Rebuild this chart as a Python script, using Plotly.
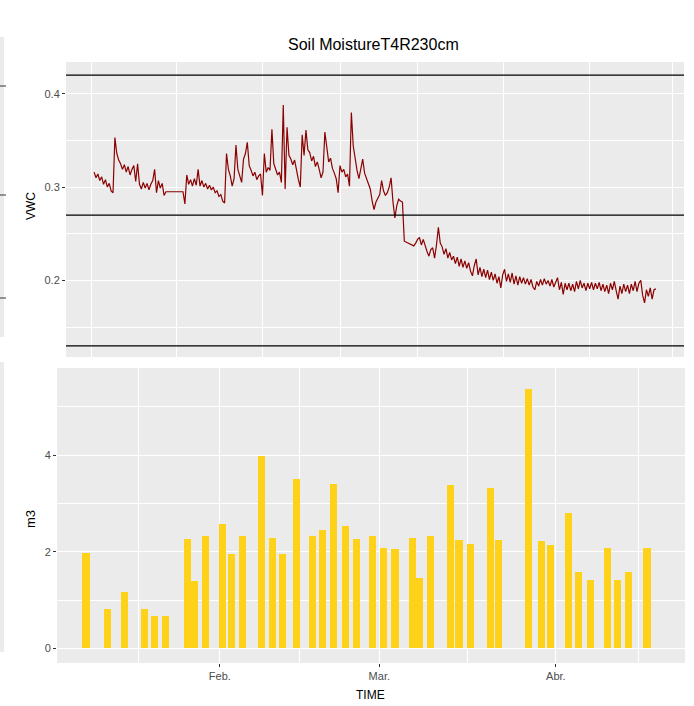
import pandas as pd
import plotly.graph_objects as go

# ---------------- data ----------------
TITLE = "Soil MoistureT4R230cm"

VWC_START = "2019-01-01 13:00"
VWC_STEP_MIN = 492
VWC = [
    0.316, 0.310, 0.314, 0.307, 0.311, 0.303, 0.308, 0.300, 0.304, 0.296,
    0.294, 0.353, 0.336, 0.329, 0.325, 0.319, 0.324, 0.316, 0.322, 0.313,
    0.319, 0.323, 0.306, 0.325, 0.303, 0.298, 0.305, 0.299, 0.304, 0.297,
    0.303, 0.307, 0.319, 0.294, 0.307, 0.299, 0.304, 0.291, 0.295, 0.295,
    0.295, 0.295, 0.295, 0.295, 0.295, 0.295, 0.295, 0.295, 0.282, 0.313,
    0.303, 0.308, 0.301, 0.309, 0.302, 0.319, 0.301, 0.307, 0.300, 0.304,
    0.298, 0.302, 0.297, 0.300, 0.294, 0.296, 0.290, 0.292, 0.285, 0.283,
    0.336, 0.319, 0.312, 0.301, 0.309, 0.345, 0.319, 0.311, 0.305, 0.330,
    0.336, 0.348, 0.323, 0.318, 0.312, 0.316, 0.308, 0.312, 0.314, 0.291,
    0.336, 0.316, 0.321, 0.318, 0.362, 0.325, 0.319, 0.313, 0.316, 0.305,
    0.388, 0.298, 0.364, 0.334, 0.330, 0.324, 0.329, 0.316, 0.308, 0.300,
    0.356, 0.334, 0.361, 0.340, 0.337, 0.328, 0.333, 0.322, 0.327, 0.319,
    0.310, 0.316, 0.359, 0.343, 0.327, 0.331, 0.320, 0.315, 0.309, 0.294,
    0.323, 0.316, 0.319, 0.311, 0.314, 0.301, 0.380, 0.344, 0.330, 0.318,
    0.309, 0.318, 0.330, 0.315, 0.309, 0.303, 0.298, 0.285, 0.276, 0.284,
    0.289, 0.292, 0.307, 0.296, 0.291, 0.294, 0.300, 0.310, 0.284, 0.267,
    0.280, 0.287, 0.285, 0.284, 0.242, 0.241, 0.240, 0.239, 0.238, 0.237,
    0.240, 0.244, 0.246, 0.238, 0.244, 0.236, 0.231, 0.226, 0.233, 0.235,
    0.224, 0.238, 0.257, 0.240, 0.236, 0.228, 0.234, 0.224, 0.230, 0.222,
    0.226, 0.218, 0.225, 0.215, 0.223, 0.214, 0.221, 0.213, 0.219, 0.210,
    0.205, 0.216, 0.223, 0.206, 0.214, 0.204, 0.212, 0.203, 0.211, 0.201,
    0.209, 0.200, 0.207, 0.197, 0.204, 0.192, 0.206, 0.212, 0.199, 0.207,
    0.198, 0.208, 0.196, 0.205, 0.195, 0.204, 0.197, 0.203, 0.196, 0.202,
    0.195, 0.201, 0.193, 0.190, 0.199, 0.194, 0.201, 0.195, 0.202, 0.196,
    0.200, 0.194, 0.201, 0.193, 0.199, 0.203, 0.190, 0.198, 0.185, 0.197,
    0.190, 0.197, 0.189, 0.196, 0.188, 0.199, 0.191, 0.200, 0.192, 0.197,
    0.189, 0.197, 0.191, 0.198, 0.190, 0.197, 0.191, 0.198, 0.189, 0.196,
    0.188, 0.195, 0.186, 0.197, 0.190, 0.199, 0.189, 0.180, 0.194, 0.186,
    0.196, 0.188, 0.195, 0.186, 0.196, 0.189, 0.199, 0.188, 0.197, 0.200,
    0.184, 0.176, 0.190, 0.183, 0.192, 0.180, 0.190, 0.191,
]
THRESHOLDS = [0.42, 0.27, 0.13]

BAR_DATES = [
    "2019-01-08 12:00", "2019-01-12 06:00", "2019-01-15 06:00", "2019-01-18 18:00",
    "2019-01-20 12:00", "2019-01-22 12:00", "2019-01-26 06:00", "2019-01-27 12:00",
    "2019-01-29 12:00", "2019-02-01 12:00", "2019-02-03 00:00", "2019-02-05 00:00",
    "2019-02-08 06:00", "2019-02-10 06:00", "2019-02-12 00:00", "2019-02-14 12:00",
    "2019-02-17 06:00", "2019-02-19 00:00", "2019-02-21 00:00", "2019-02-23 00:00",
    "2019-02-25 00:00", "2019-02-27 18:00", "2019-03-01 18:00", "2019-03-03 18:00",
    "2019-03-06 18:00", "2019-03-08 00:00", "2019-03-10 00:00", "2019-03-13 12:00",
    "2019-03-15 00:00", "2019-03-17 00:00", "2019-03-20 12:00", "2019-03-22 00:00",
    "2019-03-27 06:00", "2019-03-29 12:00", "2019-03-31 00:00", "2019-04-03 06:00",
    "2019-04-05 00:00", "2019-04-07 00:00", "2019-04-10 00:00", "2019-04-11 18:00",
    "2019-04-13 18:00", "2019-04-17 00:00",
]
BAR_M3 = [
    1.97, 0.82, 1.17, 0.82, 0.67, 0.67, 2.26, 1.39, 2.32, 2.58,
    1.95, 2.32, 3.98, 2.29, 1.95, 3.50, 2.32, 2.44, 3.41, 2.54,
    2.26, 2.32, 2.08, 2.05, 2.29, 1.46, 2.32, 3.38, 2.25, 2.17,
    3.32, 2.25, 5.36, 2.22, 2.13, 2.81, 1.58, 1.41, 2.08, 1.41,
    1.58, 2.08,
]

MONTH_TICKS = ["2019-02-01", "2019-03-01", "2019-04-01"]
MONTH_LABELS = ["Feb.", "Mar.", "Abr."]
BOTTOM_MINOR = ["2019-01-17 18:00", "2019-02-15", "2019-03-16 12:00", "2019-04-15 12:00"]
TOP_MAJOR = ["2019-01-01", "2019-02-01", "2019-03-01", "2019-04-01"]
TOP_MINOR = ["2019-01-16 12:00", "2019-02-15", "2019-03-16 12:00", "2019-04-16"]
TOP_YTICKS = [0.2, 0.3, 0.4]
TOP_YMINOR = [0.15, 0.25, 0.35]
BOT_YTICKS = [0, 2, 4]
BOT_YMINOR = [1, 3, 5]

# ---------------- figure ----------------
W, H = 694, 706
FONT = "Liberation Sans, Arial, sans-serif"
PANEL = "#EBEBEB"
TICKCOL = "#4D4D4D"


def px_x(p):
    return p / W


def px_y(p):
    return 1 - p / H


vwc_time = pd.date_range(VWC_START, periods=len(VWC), freq=f"{VWC_STEP_MIN}min")
span = vwc_time[-1] - vwc_time[0]
top_xrange = [vwc_time[0] - 0.05 * span, vwc_time[-1] + 0.05 * span]

fig = go.Figure()
fig.add_trace(go.Scatter(
    x=vwc_time, y=VWC, mode="lines",
    line=dict(color="#8B0000", width=1.2),
    xaxis="x", yaxis="y", showlegend=False, hoverinfo="skip",
))
fig.add_trace(go.Bar(
    x=pd.to_datetime(BAR_DATES), y=BAR_M3,
    width=1.25 * 86400000,
    marker=dict(color="#FFD21A", line=dict(width=0)),
    xaxis="x2", yaxis="y2", showlegend=False, hoverinfo="skip",
))

for v in THRESHOLDS:
    fig.add_shape(type="line", xref="x domain", yref="y", x0=0, x1=1, y0=v, y1=v,
                  line=dict(color="black", width=1.3), layer="above")

grid_common = dict(showgrid=True, gridcolor="white", gridwidth=1.3, zeroline=False,
                   showline=False)
minor_common = dict(showgrid=True, gridcolor="white", gridwidth=0.6, ticks="")

fig.update_layout(
    width=W, height=H,
    margin=dict(l=0, r=0, t=0, b=0),
    paper_bgcolor="white", plot_bgcolor=PANEL,
    font=dict(family=FONT, color=TICKCOL, size=11),
    bargap=0,
    xaxis=dict(
        domain=[px_x(66), px_x(684)], anchor="y", type="date",
        range=top_xrange, tickmode="array", tickvals=TOP_MAJOR,
        showticklabels=False, ticks="",
        minor=dict(tickmode="array", tickvals=TOP_MINOR, **minor_common),
        **grid_common,
    ),
    yaxis=dict(
        domain=[px_y(357), px_y(62)], anchor="x", range=[0.118, 0.434],
        tickmode="array", tickvals=TOP_YTICKS,
        ticktext=[f"{v:.1f}" for v in TOP_YTICKS],
        ticks="outside", ticklen=3, tickcolor="#333333", tickwidth=1,
        tickfont=dict(size=11, color=TICKCOL),
        minor=dict(tickmode="array", tickvals=TOP_YMINOR, **minor_common),
        **grid_common,
    ),
    xaxis2=dict(
        domain=[px_x(57), px_x(685)], anchor="y2", type="date",
        range=["2019-01-03 10:00", "2019-04-23 16:00"],
        tickmode="array", tickvals=MONTH_TICKS, ticktext=MONTH_LABELS,
        ticks="outside", ticklen=3, tickcolor="#333333", tickwidth=1,
        tickfont=dict(size=11, color=TICKCOL),
        minor=dict(tickmode="array", tickvals=BOTTOM_MINOR, **minor_common),
        **grid_common,
    ),
    yaxis2=dict(
        domain=[px_y(663), px_y(368)], anchor="x2", range=[-0.30, 5.80],
        tickmode="array", tickvals=BOT_YTICKS,
        ticktext=[str(v) for v in BOT_YTICKS],
        ticks="outside", ticklen=3, tickcolor="#333333", tickwidth=1,
        tickfont=dict(size=11, color=TICKCOL),
        minor=dict(tickmode="array", tickvals=BOT_YMINOR, **minor_common),
        **grid_common,
    ),
)

# titles as real text
fig.add_annotation(text=TITLE, xref="paper", yref="paper", x=px_x(373), y=px_y(45),
                   showarrow=False, font=dict(size=16, color="black", family=FONT),
                   xanchor="center", yanchor="middle")
fig.add_annotation(text="VWC", xref="paper", yref="paper", x=px_x(31), y=px_y(206),
                   showarrow=False, textangle=-90,
                   font=dict(size=12, color="black", family=FONT),
                   xanchor="center", yanchor="middle")
fig.add_annotation(text="m3", xref="paper", yref="paper", x=px_x(30), y=px_y(519),
                   showarrow=False, textangle=-90,
                   font=dict(size=13, color="black", family=FONT),
                   xanchor="center", yanchor="middle")
fig.add_annotation(text="TIME", xref="paper", yref="paper", x=px_x(370), y=px_y(695),
                   showarrow=False, font=dict(size=12, color="black", family=FONT),
                   xanchor="center", yanchor="middle")

# cut-off neighbouring panel strip at the left edge (decoration)
for y0, y1 in [(37, 337), (362, 652)]:
    fig.add_shape(type="rect", xref="paper", yref="paper",
                  x0=0, x1=px_x(4), y0=px_y(y1), y1=px_y(y0),
                  fillcolor=PANEL, line=dict(width=0), layer="below")
for yy in [86, 195, 298]:
    fig.add_shape(type="line", xref="paper", yref="paper",
                  x0=0, x1=px_x(6), y0=px_y(yy), y1=px_y(yy),
                  line=dict(color="#333333", width=1))

fig.write_html("out.html")
